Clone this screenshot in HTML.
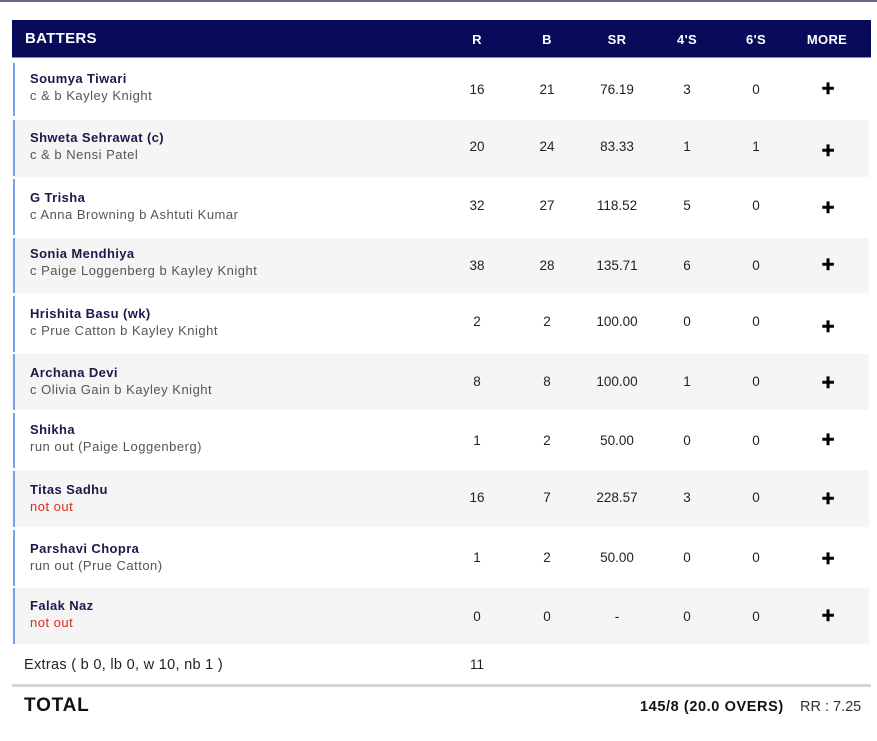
<!DOCTYPE html>
<html><head><meta charset="utf-8"><style>
body{margin:0;width:877px;height:741px;background:#fff;position:relative;overflow:hidden;font-family:"Liberation Sans",sans-serif;color:#222}
.t{position:absolute;white-space:nowrap;line-height:16px;transform:translateY(-7px)}
.c{transform:translate(-50%,-7px);font-size:13.5px;color:#222}
.n{font-size:13px;color:#1a1a4a;font-weight:bold;letter-spacing:.4px}
.o{font-size:13px;color:#555;letter-spacing:.5px}
.no{color:#e02a1a}
.p{font-size:22px;font-weight:bold;color:#000;-webkit-text-stroke:0.6px #000}
.row{position:absolute;left:12px;width:857px}
.bar{position:absolute;left:13px;width:2px;background:#74a3ea}
.h{position:absolute;color:#fff;font-weight:bold;font-size:13px;transform:translate(-50%,-7px);line-height:16px;letter-spacing:.3px}
</style></head><body>
<div style="position:absolute;left:0;top:0;width:877px;height:2px;background:#6a6a8a"></div>
<div style="position:absolute;left:12px;top:20px;width:859px;height:37px;background:#070b5a;border-bottom:1px solid #8a8ac0"></div>
<div class="t" style="left:25px;top:38px;color:#fff;font-weight:bold;font-size:15px;letter-spacing:.3px">BATTERS</div>
<div class="h" style="left:477px;top:39px">R</div>
<div class="h" style="left:547px;top:39px">B</div>
<div class="h" style="left:617px;top:39px">SR</div>
<div class="h" style="left:687px;top:39px">4'S</div>
<div class="h" style="left:756px;top:39px">6'S</div>
<div class="h" style="left:827px;top:39px">MORE</div>
<div class="row" style="top:120px;height:57px;background:#f5f5f6"></div>
<div class="row" style="top:238px;height:55px;background:#f5f5f6"></div>
<div class="row" style="top:354px;height:56px;background:#f5f5f6"></div>
<div class="row" style="top:470px;height:57px;background:#f5f5f6"></div>
<div class="row" style="top:588px;height:56px;background:#f5f5f6"></div>
<div class="bar" style="top:63px;height:53px"></div>
<div class="bar" style="top:120px;height:56px"></div>
<div class="bar" style="top:179px;height:56px"></div>
<div class="bar" style="top:238px;height:55px"></div>
<div class="bar" style="top:296px;height:56px"></div>
<div class="bar" style="top:354px;height:56px"></div>
<div class="bar" style="top:413px;height:55px"></div>
<div class="bar" style="top:471px;height:56px"></div>
<div class="bar" style="top:530px;height:56px"></div>
<div class="bar" style="top:588px;height:56px"></div>
<div id="rows"></div>
<div class="t" style="left:24px;top:664px;font-size:14.5px;color:#222;letter-spacing:.3px">Extras ( b 0, lb 0, w 10, nb 1 )</div>
<div class="t c" style="left:477px;top:664px">11</div>
<div style="position:absolute;left:12px;top:684px;width:859px;height:3px;background:#d6d6d6"></div>
<div class="t" style="left:24px;top:705px;font-size:19px;font-weight:bold;color:#111;letter-spacing:.8px">TOTAL</div>
<div class="t" style="left:640px;top:706px;font-size:14.5px;font-weight:bold;color:#111;letter-spacing:.6px">145/8 (20.0 OVERS)</div>
<div class="t" style="left:800px;top:706px;font-size:14.5px;color:#333">RR : 7.25</div>
<script>
var d=[["Soumya Tiwari","c &amp; b Kayley Knight",78,95,89,88,["16","21","76.19","3","0"]],
["Shweta Sehrawat (c)","c &amp; b Nensi Patel",137,154,146,150,["20","24","83.33","1","1"]],
["G Trisha","c Anna Browning b Ashtuti Kumar",197,214,205,207,["32","27","118.52","5","0"]],
["Sonia Mendhiya","c Paige Loggenberg b Kayley Knight",253,270,265,264,["38","28","135.71","6","0"]],
["Hrishita Basu (wk)","c Prue Catton b Kayley Knight",313,330,321,326,["2","2","100.00","0","0"]],
["Archana Devi","c Olivia Gain b Kayley Knight",372,389,381,382,["8","8","100.00","1","0"]],
["Shikha","run out (Paige Loggenberg)",429,446,440,439,["1","2","50.00","0","0"]],
["Titas Sadhu","not out",489,506,497,498,["16","7","228.57","3","0"]],
["Parshavi Chopra","run out (Prue Catton)",548,565,557,558,["1","2","50.00","0","0"]],
["Falak Naz","not out",605,622,616,615,["0","0","-","0","0"]]];
var xs=[477,547,617,687,756],h="";
d.forEach(function(r){
h+='<div class="t n" style="left:30px;top:'+r[2]+'px">'+r[0]+'</div>';
h+='<div class="t o'+(r[1]=="not out"?" no":"")+'" style="left:30px;top:'+r[3]+'px">'+r[1]+'</div>';
r[6].forEach(function(v,i){h+='<div class="t c" style="left:'+xs[i]+'px;top:'+r[4]+'px">'+v+'</div>';});
h+='<div class="t c p" style="left:828px;top:'+r[5]+'px">+</div>';
});
document.getElementById("rows").innerHTML=h;
</script>
</body></html>
